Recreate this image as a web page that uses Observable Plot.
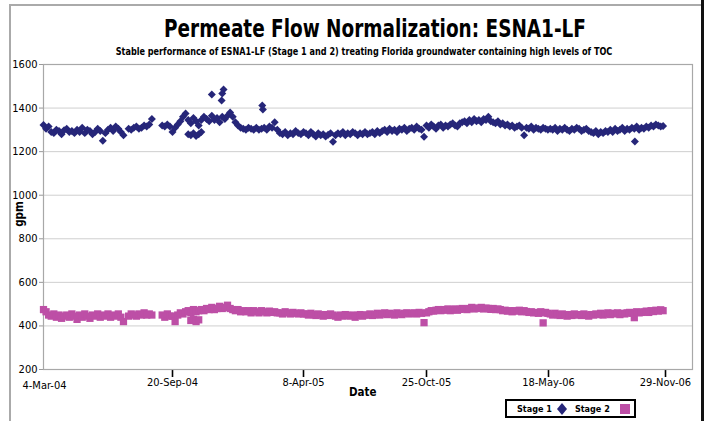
<!DOCTYPE html>
<html>
<head>
<meta charset="utf-8">
<script src="https://cdn.jsdelivr.net/npm/d3@7"></script>
<script src="https://cdn.jsdelivr.net/npm/@observablehq/plot@0.6"></script>
<style>
  html, body { margin: 0; padding: 0; background: #fff; }
  #wrap { position: relative; width: 709px; height: 421px; overflow: hidden; background: #fff;
          font-family: "DejaVu Sans Condensed", sans-serif; }
  #chart { position: absolute; left: 0; top: 0; }
  .t { position: absolute; white-space: nowrap; color: #000; }
  #title { left: 0; width: 750px; text-align: center; top: 14px; font-size: 25px; font-weight: bold; transform: scaleX(0.82); transform-origin: 375px 0; }
  #subtitle { left: 0; width: 728px; text-align: center; top: 45px; font-size: 11px; font-weight: bold; transform: scaleX(0.82); transform-origin: 364px 0; }
  #xlabel { left: 349px; top: 385px; font-size: 11.5px; font-weight: bold; }
  #ylabel { left: 6px; top: 207px; font-size: 11.5px; font-weight: bold; transform: rotate(-90deg); transform-origin: center; }
  #legend { position: absolute; left: 505px; top: 399px; width: 127px; height: 15px; border: 2px solid #000;
            font-size: 9px; font-weight: bold; display: flex; align-items: center; white-space: nowrap; }
  #frameTop { position: absolute; left: 9px; top: 4px; width: 692px; height: 0; border-top: 2px solid #aaa; }
  #frameLeft { position: absolute; left: 9px; top: 4px; width: 0; height: 420px; border-left: 2px solid #aaa; }
  #frameRight { position: absolute; left: 701px; top: 0; width: 0; height: 421px; border-left: 3px solid #111; }
  svg g[aria-label="y-axis tick"], svg g[aria-label="y-axis"] .tick line { color: #999; stroke: #999; }
  svg g[aria-label="x-axis tick"] { stroke-width: 1.6; }
  svg g[aria-label="x-axis"] .tick line { stroke-width: 1.6; }
</style>
</head>
<body>
<div id="wrap">
  <div id="frameTop"></div>
  <div id="frameLeft"></div>
  <div id="frameRight"></div>
  <div id="chart"></div>
  <div class="t" id="title">Permeate Flow Normalization: ESNA1-LF</div>
  <div class="t" id="subtitle">Stable performance of ESNA1-LF (Stage 1 and 2) treating Florida groundwater containing high levels of TOC</div>
  <div class="t" id="ylabel">gpm</div>
  <div class="t" id="xlabel">Date</div>
  <div id="legend"></div>
</div>
<script>
// ---- data ----
const startDate = "2004-03-04";
const stepDays = 4; // one reading every 4 days
const xTickDates = ["2004-03-04", "2004-09-20", "2005-04-08", "2005-10-25", "2006-05-18", "2006-11-29"];
const yTicks = [200, 400, 600, 800, 1000, 1200, 1400, 1600];
const seriesNames = ["Stage 1", "Stage 2"];

const stage1 = [
  1322, 1305, 1315, 1290, 1285, 1300, 1295, 1280, 1298, 1305, 1290,
  1295, 1285, 1300, 1290, 1310, 1285, 1300, 1295, 1280, 1290, 1305, 1295,
  1250, 1285,
  1300, 1310, 1295, 1315, 1305, 1290, 1275,
  null,
  1305, 1300, 1310, 1315, 1305, 1310, 1320, 1315, 1325, 1350,
  null, null, null,
  1320, 1315, 1325, 1315, 1290,
  1310, 1325, 1340, 1360, 1375, 1345, 1330, 1355, 1340, 1320, 1345,
  1360, 1350, 1340, 1365, 1345, 1355, 1335, 1360, 1350, 1365, 1380,
  1360, 1335, 1320, 1310, 1305, 1300, 1310, 1305, 1300, 1310, 1300,
  1305, 1310, 1300, 1315, 1310, 1335, 1300, 1285, 1280, 1290, 1275,
  1285, 1280, 1295, 1285, 1280, 1290,
  1285, 1275, 1290, 1280, 1270, 1285, 1275, 1280, 1270, 1278, 1285,
  1245,
  1275, 1285, 1280, 1290, 1275, 1285, 1280, 1290, 1285, 1275, 1285, 1280, 1290,
  1280, 1285, 1290, 1280, 1295, 1285,
  1295, 1300, 1290, 1305, 1295, 1300, 1290, 1305, 1300, 1310, 1295, 1305,
  1310, 1300, 1315, 1305, 1300, 1268, 1320,
  1310, 1325, 1315, 1305, 1320, 1325, 1310, 1320, 1315, 1325, 1330, 1320, 1315, 1330,
  1335, 1340, 1330, 1345, 1335, 1350, 1340, 1345, 1335, 1350, 1345,
  1360,
  1340, 1335, 1330, 1340, 1325, 1330, 1320, 1325, 1315, 1320, 1310, 1315, 1320, 1310,
  1275,
  1310, 1305, 1315, 1300, 1310, 1305, 1300, 1310, 1305, 1300,
  1305, 1300, 1310, 1295, 1305, 1300, 1310, 1300, 1295, 1305, 1300, 1310, 1305, 1295, 1300, 1305, 1295,
  1290, 1285, 1295, 1280, 1290, 1285, 1295, 1290,
  1300, 1290, 1305, 1295, 1300, 1310, 1295, 1305, 1300, 1310, 1305, 1315, 1300, 1310, 1305, 1315,
  1310, 1320, 1315, 1325, 1320, 1315,
  1318, null
];
const stage1ExtraDays =   [224, 228, 232, 236, 240, 244, 260, 275, 276, 278, 337, 338, 949];
const stage1ExtraValues = [1280, 1275, 1285, 1272, 1280, 1290, 1462, 1435, 1467, 1485, 1412, 1393, 1247];

const stage2 = [
  475, 465,
  450, 445, 455, 440, 450, 435, 445, 450, 440, 455, 445, 430, 450, 440, 455, 445, 435, 450, 445, 455, 440,
  450, 445, 455, 440, 450, 445, 455, 440, 420,
  null,
  445, 455, 450, 445, 455, 450, 460, 450, 455, 450,
  null, null, null,
  450, 440, 455, 445, 445,
  420,
  450, 460, 455, 465,
  470, 460, 475, 465, 470, 475,
  470, 480, 475, 485, 475, 480, 490, 480, 485, 495, 480, 475,
  470, 475, 465, 470, 465, 470, 460, 470, 465, 460, 470, 465, 460, 468, 462, 465, 460,
  460, 455, 465, 460, 455, 462, 458, 455, 460, 455,
  455, 450, 458, 452, 448, 455, 450, 445, 452, 448, 455, 450, 445, 440, 450, 445, 452, 448, 445, 450, 440, 448, 452, 445, 450,
  450, 455, 448, 452, 458, 450, 455, 460, 452, 458, 455, 450, 460, 455, 452, 458, 460, 455,
  458, 460, 455, 462, 458, 415, 460,
  465, 470, 468, 472, 475, 470, 475, 472, 478, 470, 475, 478, 472, 476, 480,
  478, 475, 480, 485, 478, 482, 480, 485, 478, 482, 480, 476, 480, 475, 478,
  475, 470, 472, 468, 470, 465, 470, 468, 472, 465, 470, 466, 462, 465, 460, 462, 458, 465, 460, 462, 458,
  455, 450, 458, 452, 448, 455, 450, 445, 452, 448, 455, 450, 452, 448, 455, 450, 445, 452, 450,
  455, 452, 458, 450, 455, 460, 452, 458, 455, 460, 452, 458, 455, 460, 462, 458, 438, 465, 460, 462,
  465, 468, 462, 470, 466, 472, 468, 474, 470,
  null
];
const stage2ExtraDays =   [228, 232, 236, 240, 796];
const stage2ExtraValues = [425, 430, 420, 428, 414];

const colors = ["#262679", "#bd4fa6"];

// ---- build table ----
const parse = d3.utcParse("%Y-%m-%d");
const t0 = parse(startDate);
const rows = [];
stage1.forEach((v, i) => { if (v != null) rows.push({date: d3.utcDay.offset(t0, i * stepDays), value: v, series: seriesNames[0]}); });
stage1ExtraDays.forEach((d, i) => rows.push({date: d3.utcDay.offset(t0, d), value: stage1ExtraValues[i], series: seriesNames[0]}));
stage2.forEach((v, i) => { if (v != null) rows.push({date: d3.utcDay.offset(t0, i * stepDays), value: v, series: seriesNames[1]}); });
stage2ExtraDays.forEach((d, i) => rows.push({date: d3.utcDay.offset(t0, d), value: stage2ExtraValues[i], series: seriesNames[1]}));

const tickDates = xTickDates.map(parse);
const endDate = d3.utcDay.offset(tickDates[tickDates.length - 1], 45);
const diamond = d3.symbolDiamond2 || d3.symbolDiamond;
const fmt = d3.utcFormat("%-d-%b-%y");

const chart = Plot.plot({
  width: 709,
  height: 421,
  marginLeft: 43,
  marginRight: 17,
  marginTop: 64,
  marginBottom: 52,
  style: {fontFamily: "'DejaVu Sans Condensed', sans-serif", fontSize: "11px", background: "transparent", color: "#000"},
  x: {
    type: "utc",
    domain: [...tickDates, endDate],
    range: [43, 172, 303, 426, 548, 665, 692],
    ticks: tickDates.slice(1),
    tickFormat: fmt,
    tickSize: 8,
    tickPadding: 1,
    label: null
  },
  y: {
    domain: [200, 1600],
    ticks: yTicks,
    tickFormat: d3.format("d"),
    tickSize: 4,
    tickPadding: 2,
    label: null
  },
  marks: [
    Plot.ruleY(yTicks, {stroke: "#cfcfcf", strokeWidth: 1}),
    Plot.frame({stroke: "#a8a8a8", strokeWidth: 1.2}),
    Plot.text([tickDates[0]], {x: d => d, frameAnchor: "bottom", dy: 19, text: d => fmt(d), fontSize: 11, dx: 1}),
    Plot.dot(rows.filter(d => d.series === seriesNames[1]), {x: "date", y: "value", symbol: "square", r: 4.1, fill: colors[1], stroke: "none"}),
    Plot.dot(rows.filter(d => d.series === seriesNames[0]), {x: "date", y: "value", symbol: diamond, r: 3.6, fill: colors[0], stroke: "none"})
  ]
});
document.getElementById("chart").appendChild(chart);

// legend
const leg = document.getElementById("legend");
leg.innerHTML =
  `<span style="margin-left:10px">${seriesNames[0]}</span>` +
  `<svg width="14" height="14" style="margin-left:3px"><path d="M7,1 L12,7 L7,13 L2,7 Z" fill="${colors[0]}"/></svg>` +
  `<span style="margin-left:6px">${seriesNames[1]}</span>` +
  `<svg width="14" height="14" style="margin-left:8px"><rect x="2" y="2" width="10" height="10" fill="${colors[1]}"/></svg>`;
</script>
</body>
</html>
